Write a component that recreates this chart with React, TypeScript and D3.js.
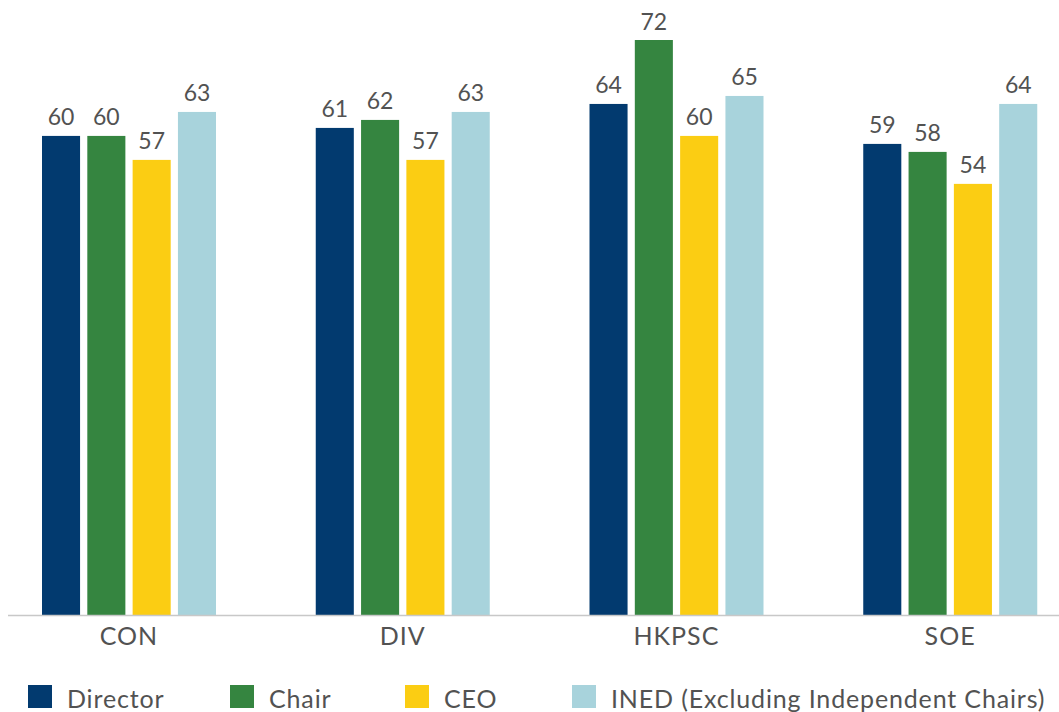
import React from "react";
import * as d3 from "d3";

const categories = ["CON", "DIV", "HKPSC", "SOE"];
const seriesNames = ["Director", "Chair", "CEO", "INED (Excluding Independent Chairs)"];
const director = [60, 61, 64, 59];
const chair = [60, 62, 72, 58];
const ceo = [57, 57, 60, 54];
const ined = [63, 63, 65, 64];
const seriesValues = [director, chair, ceo, ined];
const colors = ["#023a6f", "#358540", "#fbcd13", "#a8d3dc"];

const W = 1059;
const H = 712;
const FONT = "Lato, 'Open Sans', sans-serif";
const TEXT = "#525252";

export default function App() {
  const x0 = d3.scaleBand<string>().domain(categories).range([-8, 1087]);
  const x1 = d3
    .scaleBand<number>()
    .domain(d3.range(seriesNames.length))
    .range([50, 224])
    .paddingInner(0.16);
  const y = d3.scaleLinear().domain([0, 72]).range([615.5, 40]);

  const legendX = [28, 230, 405, 572];

  return (
    <svg
      width={W}
      height={H}
      style={{ position: "absolute", left: 0, top: 0, background: "#fff" }}
      fontFamily={FONT}
    >
      {categories.map((c, ci) => (
        <g key={c} transform={`translate(${x0(c)},0)`}>
          {seriesValues.map((vals, si) => {
            const v = vals[ci];
            const bx = x1(si)!;
            const bw = x1.bandwidth();
            return (
              <g key={si}>
                <rect x={bx} y={y(v)} width={bw} height={y(0) - y(v)} fill={colors[si]} />
                <text
                  x={bx + bw / 2}
                  y={y(v) - 10.5}
                  textAnchor="middle"
                  fontSize={23}
                  fill={TEXT}
                >
                  {v}
                </text>
              </g>
            );
          })}
          <text
            x={x0.bandwidth() / 2}
            y={645}
            textAnchor="middle"
            fontSize={25}
            letterSpacing={1}
            fill={TEXT}
          >
            {c}
          </text>
        </g>
      ))}
      <line x1={8} x2={W} y1={615.5} y2={615.5} stroke="#c8c8c8" strokeWidth={1.5} />
      {seriesNames.map((n, i) => (
        <g key={n} transform={`translate(${legendX[i]},685)`}>
          <rect x={0} y={0} width={24} height={23} fill={colors[i]} />
          <text x={39} y={23} fontSize={25} letterSpacing={0.85} fill={TEXT}>
            {n}
          </text>
        </g>
      ))}
    </svg>
  );
}
